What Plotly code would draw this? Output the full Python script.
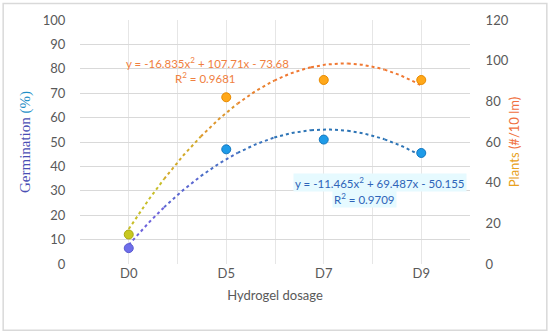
import numpy as np
import plotly.graph_objects as go

categories = ["D0", "D5", "D7", "D9"]
germination = [6.5, 47, 51, 45.5]
plants = [14.5, 82, 90.5, 90.5]
germ_coef = [-11.465, 69.487, -50.155]
plant_coef = [-16.835, 107.71, -73.68]
germ_eq = "y = -11.465x<sup>2</sup> + 69.487x - 50.155"
germ_r2 = "R<sup>2</sup> = 0.9709"
plant_eq = "y = -16.835x<sup>2</sup> + 107.71x - 73.68"
plant_r2 = "R<sup>2</sup> = 0.9681"

xpos = list(range(1, len(categories) + 1))
xs = np.linspace(1, len(categories), 200)

FONT = "Lato, 'Open Sans', sans-serif"
fig = go.Figure()


def lerp(c1, c2, t):
    return "rgb(%d,%d,%d)" % tuple(int(a + (b - a) * t) for a, b in zip(c1, c2))


def add_trend(coef, c_start, c_end, yaxis):
    ys = np.polyval(coef, xs)
    n = 8
    idx = np.linspace(0, len(xs) - 1, n + 1).astype(int)
    for k in range(n):
        t = min(1.0, k / (n * 0.45))
        sl = slice(idx[k], idx[k + 1] + 1)
        fig.add_trace(go.Scatter(x=xs[sl], y=ys[sl], mode="lines", yaxis=yaxis,
                                 line=dict(color=lerp(c_start, c_end, t), width=2, dash="dot"),
                                 hoverinfo="skip", showlegend=False))


add_trend(plant_coef, (200, 190, 40), (240, 120, 50), "y2")
add_trend(germ_coef, (110, 100, 220), (46, 117, 182), "y")

fig.add_trace(go.Scatter(x=xpos, y=germination, mode="markers", yaxis="y",
                         marker=dict(size=9, color=["#6E6EEA", "#1E9BE8", "#1E9BE8", "#1E9BE8"],
                                     line=dict(color=["#5A5AD0", "#1478C0", "#1478C0", "#1478C0"], width=1)),
                         showlegend=False))
fig.add_trace(go.Scatter(x=xpos, y=plants, mode="markers", yaxis="y2",
                         marker=dict(size=9, color=["#C8C820", "#FFA81A", "#FFA81A", "#FFA81A"],
                                     line=dict(color=["#A8A810", "#E88A00", "#E88A00", "#E88A00"], width=1)),
                         showlegend=False))

fig.update_layout(
    width=550, height=335,
    margin=dict(l=80, r=80, t=20, b=71),
    paper_bgcolor="white", plot_bgcolor="white",
    font=dict(family=FONT, size=13, color="#595959"),
    xaxis=dict(range=[0.5, len(categories) + 0.5], tickvals=xpos, ticktext=categories,
               showgrid=True, gridcolor="#E6E6E6", gridwidth=1, zeroline=False,
               showline=False, ticks="", ticklen=0,
               minor=dict(tick0=0.5, dtick=1, showgrid=True, gridcolor="#E6E6E6"),
               title=dict(text="Hydrogel dosage", font=dict(size=13, color="#595959"), standoff=10)),
    yaxis=dict(range=[0, 100], dtick=10, showgrid=True, gridcolor="#D9D9D9", gridwidth=1.2,
               zeroline=False, showline=False, ticks="outside", ticklen=11, tickcolor="rgba(0,0,0,0)",
               title=dict(text="<span style='color:#4A4EB4'>Germination</span> <span style='color:#1F8FC8'>(%)</span>",
                          font=dict(family="'Liberation Serif', 'DejaVu Serif', serif", size=15),
                          standoff=8)),
    yaxis2=dict(range=[0, 120], dtick=20, overlaying="y", side="right", showgrid=False,
                zeroline=False, showline=False, ticks="outside", ticklen=12, tickcolor="rgba(0,0,0,0)",
                title=dict(text="<span style='color:#E8A020'>Plants</span> <span style='color:#F07040'>(#/10 lm)</span>",
                           font=dict(size=13), standoff=2)),
)

fig.add_annotation(x=0.95, y=82.6, xref="x", yref="y", text=plant_eq, showarrow=False,
                   xanchor="left", font=dict(size=11.5, color="#F08040"))
fig.add_annotation(x=1.45, y=76.6, xref="x", yref="y", text=plant_r2, showarrow=False,
                   xanchor="left", font=dict(size=11.5, color="#F08040"))
fig.add_annotation(x=4.47, y=33.5, xref="x", yref="y", text=germ_eq, showarrow=False,
                   xanchor="right", font=dict(size=11.5, color="#2E64B8"), bgcolor="#E6FAFF")
fig.add_annotation(x=3.42, y=27, xref="x", yref="y", text=germ_r2, showarrow=False,
                   xanchor="center", font=dict(size=11.5, color="#2E64B8"), bgcolor="#E6FAFF")

fig.add_shape(type="rect", xref="paper", yref="paper", x0=-0.197, x1=1.197, y0=-0.272, y1=1.068,
              line=dict(color="#D9D9D9", width=1.5))

fig.write_html("out.html", config={"displayModeBar": False},
               post_script="document.body.style.margin='0';document.body.style.overflow='hidden';")
